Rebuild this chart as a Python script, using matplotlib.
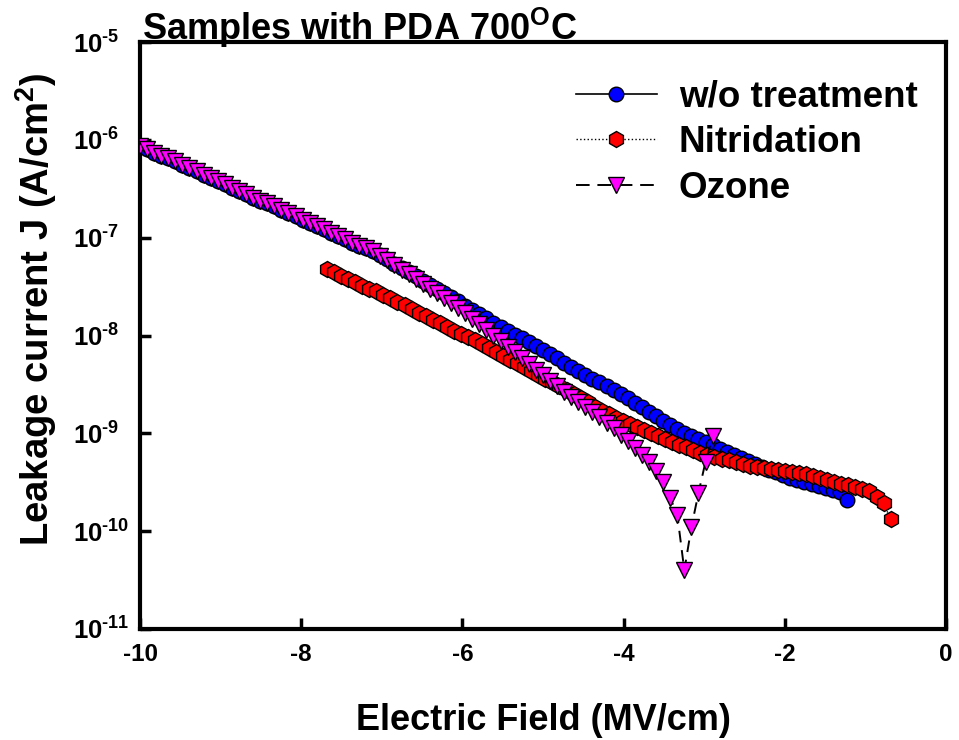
import numpy as np
import matplotlib
matplotlib.use("Agg")
import matplotlib.pyplot as plt
from matplotlib.ticker import FixedLocator, FuncFormatter
from matplotlib.lines import Line2D

plt.rcParams['font.family'] = ['Liberation Sans', 'DejaVu Sans']
plt.rcParams['font.weight'] = 'bold'
plt.rcParams['mathtext.fontset'] = 'custom'
plt.rcParams['mathtext.rm'] = 'Liberation Sans:bold'
plt.rcParams['mathtext.it'] = 'Liberation Sans:bold'
plt.rcParams['mathtext.bf'] = 'Liberation Sans:bold'
plt.rcParams['mathtext.default'] = 'bf'

# ---- data (electric field in MV/cm, log10 of J in A/cm^2) ----
wo_start, wo_step = -10.0, 0.0877
wo_logJ = [
    -6.06, -6.09, -6.13, -6.16, -6.19, -6.22, -6.26, -6.29, -6.32, -6.36,
    -6.39, -6.42, -6.45, -6.49, -6.52, -6.55, -6.59, -6.62, -6.65, -6.68,
    -6.72, -6.75, -6.78, -6.82, -6.85, -6.88, -6.91, -6.95, -6.98, -7.01,
    -7.05, -7.08, -7.11, -7.14, -7.18, -7.22, -7.27, -7.31, -7.35, -7.39,
    -7.44, -7.48, -7.52, -7.57, -7.61, -7.65, -7.70, -7.74, -7.78, -7.82,
    -7.87, -7.91, -7.95, -7.99, -8.03, -8.07, -8.11, -8.15, -8.19, -8.23,
    -8.28, -8.32, -8.36, -8.40, -8.44, -8.48, -8.52, -8.56, -8.60, -8.64,
    -8.69, -8.73, -8.78, -8.82, -8.87, -8.91, -8.96, -9.00, -9.03, -9.06,
    -9.09, -9.12, -9.16, -9.19, -9.22, -9.25, -9.28, -9.31, -9.34, -9.37,
    -9.40, -9.43, -9.46, -9.48, -9.50, -9.52, -9.54, -9.56, -9.58, -9.60,
    -9.68,
]

nit_start, nit_step = -7.68, 0.0874
nit_logJ = [
    -7.32, -7.35, -7.39, -7.42, -7.45, -7.49, -7.52, -7.55, -7.59, -7.62,
    -7.66, -7.69, -7.73, -7.77, -7.80, -7.84, -7.87, -7.91, -7.95, -7.98,
    -8.02, -8.05, -8.09, -8.13, -8.17, -8.21, -8.25, -8.28, -8.32, -8.36,
    -8.40, -8.44, -8.48, -8.52, -8.56, -8.60, -8.64, -8.68, -8.73, -8.77,
    -8.80, -8.84, -8.87, -8.90, -8.94, -8.97, -9.00, -9.03, -9.06, -9.09,
    -9.12, -9.14, -9.17, -9.20, -9.22, -9.24, -9.26, -9.27, -9.29, -9.31,
    -9.33, -9.34, -9.35, -9.36, -9.37, -9.38, -9.40, -9.41, -9.42, -9.44,
    -9.46, -9.48, -9.50, -9.52, -9.53, -9.55, -9.57, -9.59, -9.65, -9.71,
    -9.88,
]

ozo_start, ozo_step = -10.0, 0.0877
ozo_logJ = [
    -6.06, -6.09, -6.13, -6.16, -6.19, -6.22, -6.26, -6.29, -6.32, -6.36,
    -6.39, -6.42, -6.45, -6.49, -6.52, -6.55, -6.59, -6.62, -6.65, -6.68,
    -6.72, -6.75, -6.78, -6.82, -6.85, -6.88, -6.91, -6.95, -6.98, -7.01,
    -7.05, -7.08, -7.11, -7.14, -7.19, -7.23, -7.28, -7.33, -7.37, -7.42,
    -7.47, -7.52, -7.57, -7.62, -7.67, -7.72, -7.77, -7.83, -7.88, -7.94,
    -8.00, -8.06, -8.12, -8.17, -8.23, -8.29, -8.35, -8.40, -8.46, -8.52,
    -8.58, -8.63, -8.68, -8.73, -8.78, -8.83, -8.89, -8.95, -9.02, -9.08,
    -9.15, -9.22, -9.29, -9.38, -9.50, -9.66, -9.83, -10.40, -9.96, -9.61,
    -9.29, -9.03,
]

series_names = ['w/o treatment', 'Nitridation', 'Ozone']
x_ticks = [-10, -8, -6, -4, -2, 0]
y_ticks_exp = [-11, -10, -9, -8, -7, -6, -5]


def field(start, step, n):
    return start + step * np.arange(n)


fig = plt.figure(figsize=(9.59, 7.40), dpi=100)
ax = fig.add_axes([0.146, 0.150, 0.8405, 0.7932])

x_wo = field(wo_start, wo_step, len(wo_logJ))
x_nit = field(nit_start, nit_step, len(nit_logJ))
x_ozo = field(ozo_start, ozo_step, len(ozo_logJ))

dash = (0, (6, 4))
ax.plot(x_wo, 10 ** np.array(wo_logJ), '-', color='black', lw=1.0,
        marker='o', ms=10.5, mfc='#0000ff', mec='black', mew=1.0, zorder=3)
ax.plot(x_nit, 10 ** np.array(nit_logJ), ':', color='black', lw=1.0,
        marker='h', ms=11.5, mfc='#ff0000', mec='black', mew=1.0, zorder=4)
ax.plot(x_ozo, 10 ** np.array(ozo_logJ), color='black', lw=1.4,
        linestyle=dash,
        marker='v', ms=11.5, mfc='#ff00ff', mec='black', mew=1.0, zorder=5)

ax.set_yscale('log')
ax.set_xlim(-10, 0)
ax.set_ylim(1e-11, 1e-5)
ax.xaxis.set_major_locator(FixedLocator(x_ticks))
ax.yaxis.set_major_locator(FixedLocator([10.0 ** e for e in y_ticks_exp]))
ax.yaxis.set_minor_locator(FixedLocator([]))
ax.xaxis.set_major_formatter(FuncFormatter(lambda v, p: '%d' % v if v != 0 else '0'))
ax.yaxis.set_major_formatter(FuncFormatter(
    lambda v, p: r'$\mathbf{10^{\text{-%d}}}$' % abs(int(round(np.log10(v))))))

for s in ax.spines.values():
    s.set_linewidth(3.0)
ax.tick_params(axis='x', which='major', direction='in', length=8, width=2.5,
               labelsize=17.5, pad=10)
ax.tick_params(axis='y', which='major', direction='in', length=8, width=2.5,
               labelsize=18.5, pad=48)
ax.tick_params(axis='both', which='minor', length=0)
for lab in ax.get_xticklabels():
    lab.set_fontweight('bold')
for lab in ax.get_yticklabels():
    lab.set_fontweight('bold')
    lab.set_horizontalalignment('left')

ax.set_xlabel('Electric Field (MV/cm)', fontsize=26, fontweight='bold', labelpad=27)
ax.set_ylabel(r'Leakage current J (A/cm$^\mathbf{2}$)', fontsize=27.5,
              fontweight='bold')
ax.yaxis.set_label_coords(-0.101, 0.545)

fig.text(0.148, 1 - 40 / 740, r'Samples with PDA 700$^\mathbf{O}$C', fontsize=26,
         fontweight='bold', ha='left', va='baseline')

handles = [
    Line2D([], [], color='black', lw=1.2, linestyle='-', marker='o', ms=10.5,
           mfc='#0000ff', mec='black', mew=1.0),
    Line2D([], [], color='black', lw=1.0, linestyle=':', marker='h', ms=11.5,
           mfc='#ff0000', mec='black', mew=1.0),
    Line2D([], [], color='black', lw=1.4, linestyle=(0, (7, 4)), marker='v',
           ms=11.5, mfc='#ff00ff', mec='black', mew=1.0),
]
leg = ax.legend(handles, series_names, loc='upper right', frameon=False,
                prop={'weight': 'bold', 'size': 26.5},
                handlelength=2.2, handletextpad=0.6, labelspacing=0.28,
                borderaxespad=0.2, bbox_to_anchor=(0.992, 0.973))

fig.savefig('out.png', dpi=100)
